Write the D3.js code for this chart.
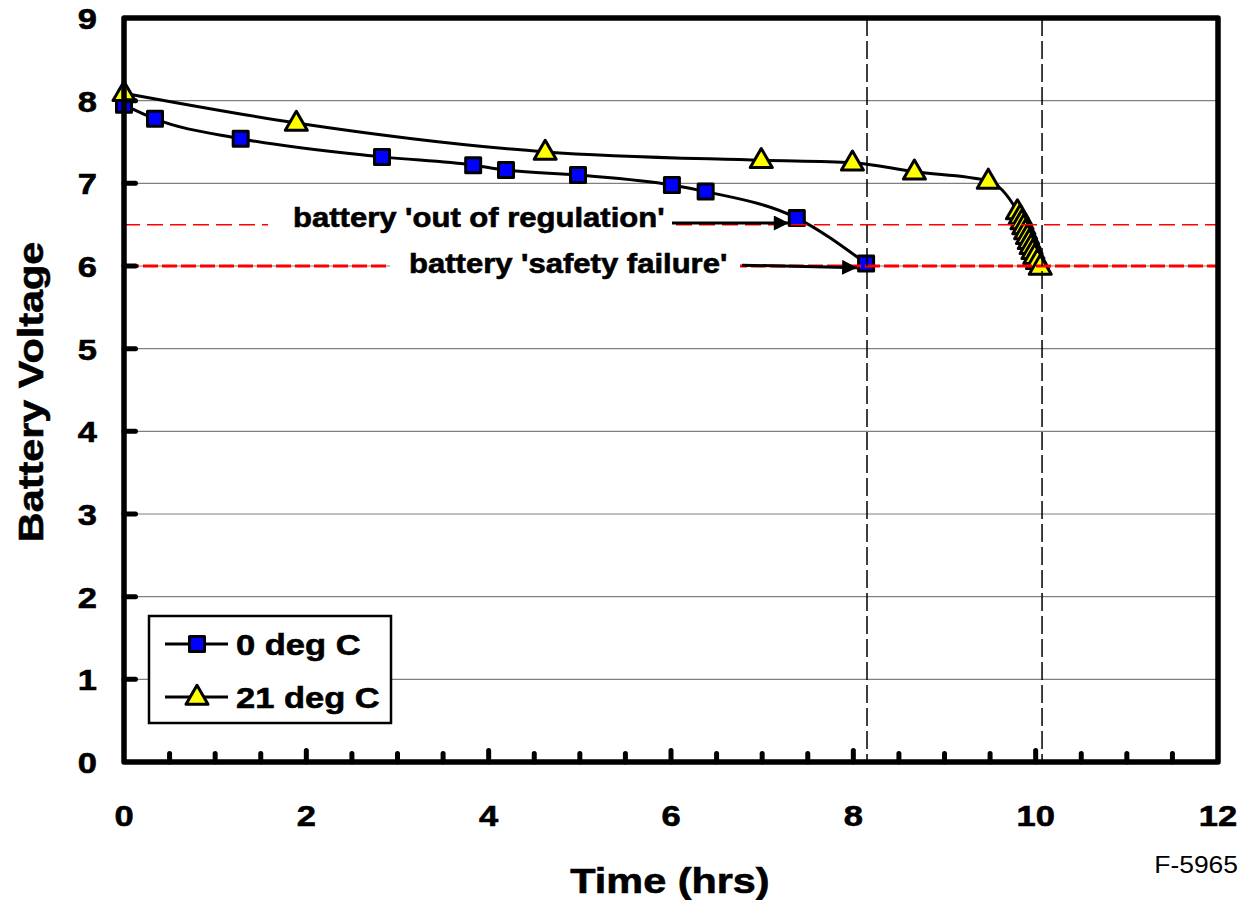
<!DOCTYPE html>
<html>
<head>
<meta charset="utf-8">
<script src="https://cdn.jsdelivr.net/npm/d3@7"></script>
<style>
  body { margin: 0; background: #fff; }
  text { font-family: "Liberation Sans", Arial, sans-serif; }
</style>
</head>
<body>
<svg id="chart" width="1244" height="900"></svg>
<script>
// readings
var hours0 = [0, 0.34, 1.28, 2.83, 3.83, 4.19, 4.98, 6.01, 6.38, 7.38, 8.14];
var volts0 = [7.95, 7.78, 7.54, 7.32, 7.22, 7.16, 7.10, 6.98, 6.90, 6.58, 6.03];
var hours21 = [0, 1.89, 4.62, 6.99, 7.99, 8.67, 9.48, 9.80, 9.83, 9.85, 9.87, 9.89,
  9.91, 9.93, 9.95, 9.97, 9.99, 10.02, 10.05];
var volts21 = [8.09, 7.73, 7.38, 7.28, 7.25, 7.14, 7.03, 6.66, 6.60, 6.54, 6.48, 6.42,
  6.36, 6.30, 6.24, 6.18, 6.12, 6.06, 5.99];
var seriesNames = ['0 deg C', '21 deg C'];
var xTickLabels = [0, 2, 4, 6, 8, 10, 12];
var yTickLabels = [0, 1, 2, 3, 4, 5, 6, 7, 8, 9];
var limitVolts = [6.5, 6.0];
var limitLabels = ["battery 'out of regulation'", "battery 'safety failure'"];
var endTimes = [8.15, 10.07];

var SX = 1.15; // the original lettering is a bit wide
var svg = d3.select('#chart');
var x = d3.scaleLinear().domain([0, 12]).range([124, 1218]);
var y = d3.scaleLinear().domain([0, 9]).range([762, 18]);

function label(parent, px, py, str, size, anchor, weight, rot) {
  var t = parent.append('text')
    .attr('transform', `translate(${px},${py})` + (rot ? ` rotate(${rot})` : '') + ` scale(${SX},1)`)
    .attr('text-anchor', anchor || 'start')
    .attr('font-size', size)
    .attr('font-weight', weight || 'bold')
    .text(str);
  if (!weight) {
    // heavier strokes, like the scanned figure
    t.attr('stroke', '#000').attr('stroke-width', 0.6);
  }
  return t;
}

function zip(xs, ys) {
  return xs.map((h, i) => ({ h: h, v: ys[i] }));
}

// gridlines
svg.append('g').selectAll('line')
  .data(yTickLabels.slice(1, -1))
  .join('line')
  .attr('x1', x(0)).attr('x2', x(12))
  .attr('y1', d => y(d)).attr('y2', d => y(d))
  .attr('stroke', '#808080').attr('stroke-width', 1.2);

// series
var series = [zip(hours0, volts0), zip(hours21, volts21)];
var line = d3.line().x(d => x(d.h)).y(d => y(d.v)).curve(d3.curveMonotoneX);
svg.append('g').selectAll('path')
  .data(series)
  .join('path')
  .attr('d', line)
  .attr('fill', 'none')
  .attr('stroke', '#000')
  .attr('stroke-width', 3);

var squareSym = d3.symbol().type(d3.symbolSquare).size(225);
var triSym = d3.symbol().type(d3.symbolTriangle).size(210);

function drawSquares(sel) {
  sel.attr('d', squareSym).attr('fill', '#0000ff').attr('stroke', '#000')
    .attr('stroke-width', 3).attr('stroke-linejoin', 'round');
}
function drawTriangles(sel) {
  sel.attr('d', triSym).attr('fill', '#ffff00').attr('stroke', '#000')
    .attr('stroke-width', 3).attr('stroke-linejoin', 'round');
}

svg.append('g').selectAll('path')
  .data(series[0])
  .join('path')
  .attr('transform', d => `translate(${x(d.h)},${y(d.v)})`)
  .call(drawSquares);

svg.append('g').selectAll('path')
  .data(series[1])
  .join('path')
  .attr('transform', d => `translate(${x(d.h)},${y(d.v) + 1})`)
  .call(drawTriangles);

// limit lines
var limits = svg.append('g');
limits.append('line')
  .attr('x1', x(0)).attr('x2', x(12))
  .attr('y1', y(limitVolts[0])).attr('y2', y(limitVolts[0]))
  .attr('stroke', '#ff0000').attr('stroke-width', 1.5)
  .attr('stroke-dasharray', '16,7');
limits.append('line')
  .attr('x1', x(0)).attr('x2', x(12))
  .attr('y1', y(limitVolts[1])).attr('y2', y(limitVolts[1]))
  .attr('stroke', '#ff0000').attr('stroke-width', 3)
  .attr('stroke-dasharray', '15,4');

// end-of-life verticals
svg.append('g').selectAll('line')
  .data(endTimes)
  .join('line')
  .attr('x1', d => x(d)).attr('x2', d => x(d))
  .attr('y1', y(9)).attr('y2', y(0))
  .attr('stroke', '#000').attr('stroke-width', 1.5)
  .attr('stroke-dasharray', '18,5');

// annotations
var notes = svg.append('g');
notes.append('rect').attr('x', 268).attr('y', 205).attr('width', 404).attr('height', 28).attr('fill', '#fff');
notes.append('rect').attr('x', 390).attr('y', 251).attr('width', 350).attr('height', 29).attr('fill', '#fff');
label(notes, 293, 227, limitLabels[0], 27);
label(notes, 409, 273, limitLabels[1], 27);

svg.append('defs').append('marker')
  .attr('id', 'head')
  .attr('viewBox', '0 0 10 10')
  .attr('refX', 10).attr('refY', 5)
  .attr('markerWidth', 8).attr('markerHeight', 5)
  .attr('markerUnits', 'strokeWidth')
  .attr('orient', 'auto')
  .append('path').attr('d', 'M0,0L10,5L0,10Z').attr('fill', '#000');

notes.append('line')
  .attr('x1', 672).attr('y1', y(6.52))
  .attr('x2', x(hours0[9]) - 8).attr('y2', y(6.52))
  .attr('stroke', '#000').attr('stroke-width', 3)
  .attr('marker-end', 'url(#head)');
notes.append('line')
  .attr('x1', 742).attr('y1', y(6.01))
  .attr('x2', x(hours0[10]) - 9).attr('y2', y(5.98))
  .attr('stroke', '#000').attr('stroke-width', 3)
  .attr('marker-end', 'url(#head)');

// frame and ticks
var frame = svg.append('g').attr('stroke', '#000').attr('stroke-linecap', 'round');
frame.append('rect')
  .attr('x', x(0)).attr('y', y(9))
  .attr('width', x(12) - x(0)).attr('height', y(0) - y(9))
  .attr('fill', 'none').attr('stroke-width', 5.5).attr('stroke-linejoin', 'round');
frame.selectAll('.xt')
  .data(d3.range(1, 24).map(i => i / 2))
  .join('line')
  .attr('class', 'xt')
  .attr('x1', d => x(d)).attr('x2', d => x(d))
  .attr('y1', y(0)).attr('y2', d => y(0) - (d % 2 === 0 ? 11.5 : 8.5))
  .attr('stroke-width', 5);
frame.selectAll('.yt')
  .data(yTickLabels.slice(1, -1))
  .join('line')
  .attr('class', 'yt')
  .attr('x1', x(0)).attr('x2', x(0) + 11.5)
  .attr('y1', d => y(d)).attr('y2', d => y(d))
  .attr('stroke-width', 5);

// tick labels
xTickLabels.forEach(t => label(svg, x(t), 826, t, 30, 'middle'));
yTickLabels.forEach(t => label(svg, 97, y(t) + 11, t, 30, 'end'));

// axis titles
label(svg, 670, 893, 'Time (hrs)', 36, 'middle');
label(svg, 43, 392, 'Battery Voltage', 36, 'middle', null, -90);
label(svg, 1238, 873, 'F-5965', 23, 'end', 'normal');

// legend
var legend = svg.append('g');
legend.append('rect')
  .attr('x', 149).attr('y', 616).attr('width', 242).attr('height', 107)
  .attr('fill', '#fff').attr('stroke', '#000').attr('stroke-width', 2.5);
var rows = [644, 697];
seriesNames.forEach((name, i) => {
  legend.append('line')
    .attr('x1', 165).attr('x2', 228).attr('y1', rows[i]).attr('y2', rows[i])
    .attr('stroke', '#000').attr('stroke-width', 3);
  var m = legend.append('path').attr('transform', `translate(197,${rows[i] + (i ? 1 : 0)})`);
  if (i === 0) m.call(drawSquares); else m.call(drawTriangles);
  label(legend, 236, rows[i] + 10.5, name, 30);
});
</script>
</body>
</html>
